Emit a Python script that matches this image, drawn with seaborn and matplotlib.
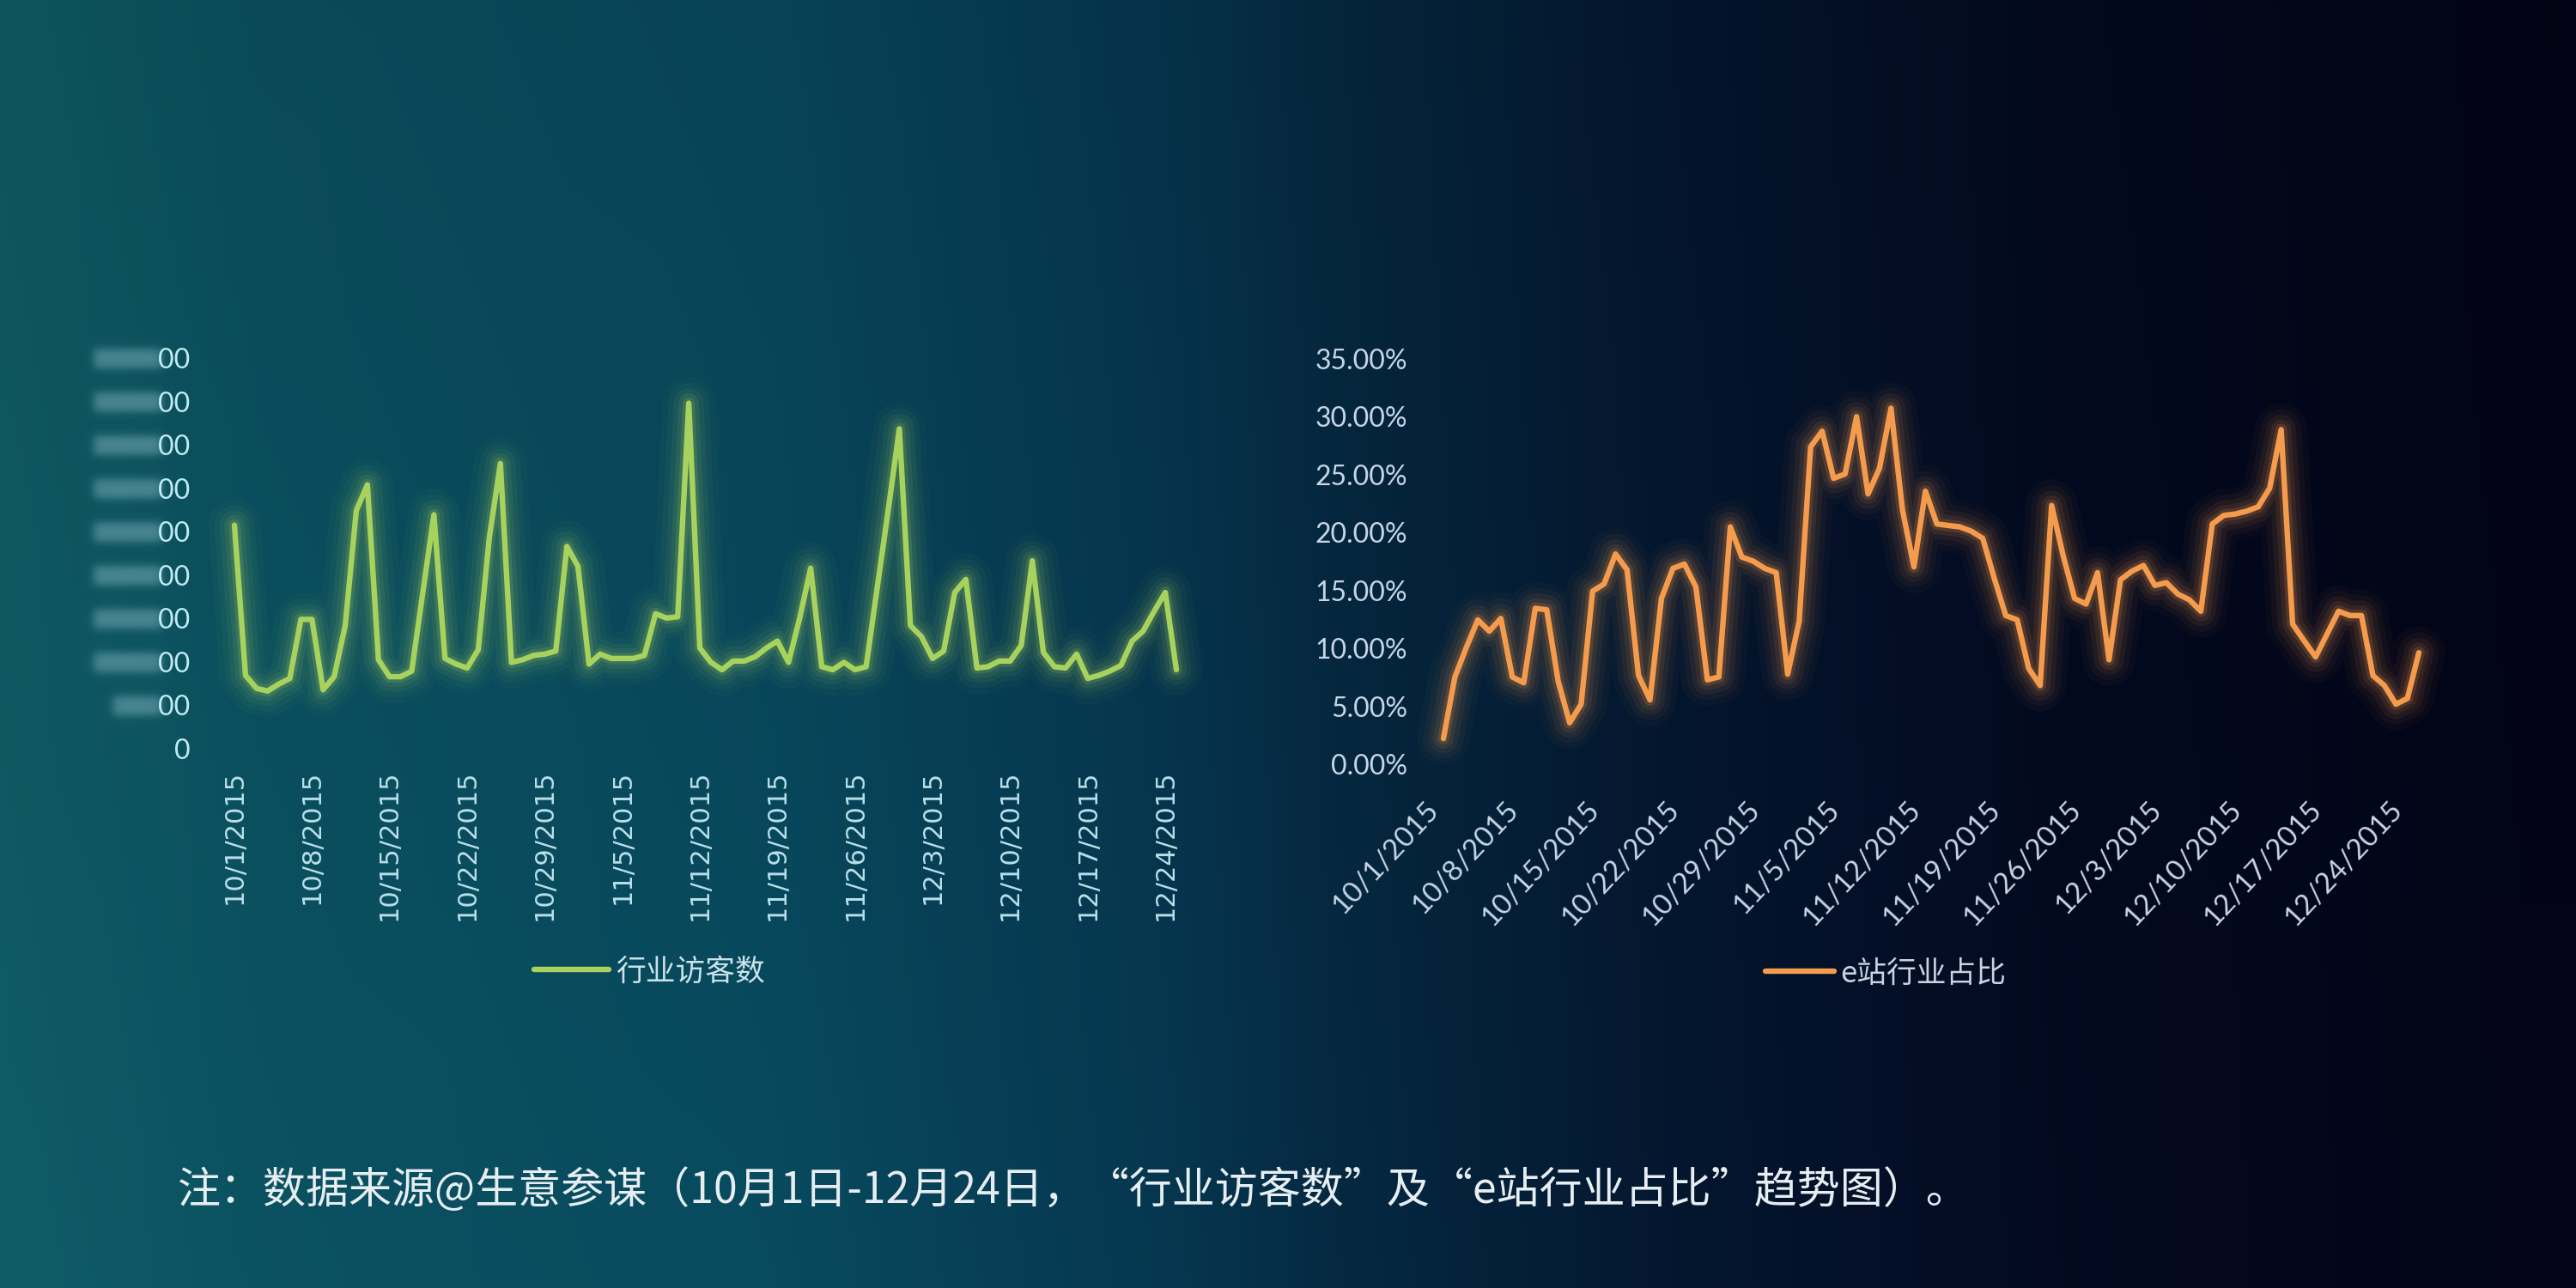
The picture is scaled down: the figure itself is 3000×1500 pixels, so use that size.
import numpy as np
import pandas as pd
import matplotlib
matplotlib.use("Agg")
import matplotlib.pyplot as plt
import seaborn as sns
from matplotlib.lines import Line2D
from matplotlib.font_manager import FontProperties

# ---------------- data ----------------
# 行业访客数 (axis units; the scale prefix is blurred in the original)
visitors = [5.15, 1.69, 1.39, 1.33, 1.49, 1.62, 2.98, 2.98, 1.36, 1.66,
            2.84, 5.49, 6.08, 2.05, 1.66, 1.66, 1.79, 3.60, 5.39, 2.08,
            1.95, 1.86, 2.28, 4.86, 6.57, 1.99, 2.05, 2.15, 2.18, 2.25,
            4.66, 4.20, 1.95, 2.18, 2.08, 2.08, 2.08, 2.15, 3.11, 3.01,
            3.04, 7.96, 2.32, 1.99, 1.82, 2.02, 2.02, 2.12, 2.32, 2.48,
            1.99, 3.00, 4.16, 1.89, 1.82, 1.99, 1.82, 1.89, 3.70, 5.50,
            7.37, 2.84, 2.58, 2.08, 2.25, 3.60, 3.90, 1.86, 1.89, 2.02,
            2.02, 2.38, 4.33, 2.22, 1.89, 1.86, 2.18, 1.62, 1.69, 1.79,
            1.92, 2.48, 2.71, 3.17, 3.60, 1.82]
# e站行业占比 (%)
share_pct = [2.24, 7.55, 10.10, 12.48, 11.50, 12.60, 7.55, 7.05, 13.47, 13.35,
             7.18, 3.60, 5.20, 14.95, 15.57, 18.16, 16.80, 7.67, 5.57, 14.33,
             16.92, 17.29, 15.32, 7.30, 7.55, 20.50, 17.90, 17.54, 16.92, 16.55,
             7.79, 12.36, 27.41, 28.76, 24.69, 25.06, 30.00, 23.34, 25.56, 30.74,
             21.98, 17.05, 23.58, 20.75, 20.62, 20.50, 20.13, 19.51, 16.06, 12.85,
             12.48, 8.29, 6.81, 22.35, 18.03, 14.33, 13.84, 16.55, 9.03, 15.94,
             16.68, 17.17, 15.45, 15.69, 14.70, 14.21, 13.22, 20.75, 21.49, 21.61,
             21.86, 22.23, 23.84, 28.89, 12.11, 10.68, 9.28, 11.25, 13.22, 12.85,
             12.85, 7.67, 6.81, 5.20, 5.70, 9.64]
tick_labels = ["10/1/2015", "10/8/2015", "10/15/2015", "10/22/2015", "10/29/2015",
               "11/5/2015", "11/12/2015", "11/19/2015", "11/26/2015", "12/3/2015",
               "12/10/2015", "12/17/2015", "12/24/2015"]
tick_days = [0, 7, 14, 21, 28, 35, 42, 49, 56, 63, 70, 77, 84]
visitor_ticks = [0, 1, 2, 3, 4, 5, 6, 7, 8, 9]
share_ticks = [0, 5, 10, 15, 20, 25, 30, 35]
legend_left = "行业访客数"
legend_right = "e站行业占比"
note = "注：数据来源@生意参谋（10月1日-12月24日，“行业访客数”及“e站行业占比”趋势图）。"

df = pd.DataFrame({"day": np.arange(len(visitors)),
                   "visitors": visitors, "share": share_pct})

GREEN = "#a8d25e"
ORANGE = "#f59b4d"

sns.set_theme(style="white")
plt.rcParams["font.family"] = ["Lato", "DejaVu Sans"]

W, H = 3000, 1500
fig = plt.figure(figsize=(30, 15), dpi=100)

# ---------------- background gradient ----------------
stops = [(0.00, (15, 90, 100)), (0.10, (11, 80, 95)), (0.30, (8, 72, 92)),
         (0.45, (6, 54, 78)), (0.52, (5, 40, 64)), (0.65, (4, 22, 46)),
         (0.80, (3, 10, 32)), (1.00, (3, 4, 22))]
xs = np.linspace(0, 1, W)
pos = [s[0] for s in stops]
cols = np.array([s[1] for s in stops], float)
row = np.stack([np.interp(xs, pos, cols[:, c]) for c in range(3)], axis=-1)
img = np.repeat(row[None, :, :], H, axis=0)
yy = np.linspace(0, 1, H)[:, None, None]
img = img * (0.93 + 0.10 * yy)  # slightly lighter toward the bottom
img = np.clip(img, 0, 255)

ax1 = fig.add_axes([273 / W, 1 - 872 / H, (1370 - 273) / W, (872 - 417) / H])
ax2 = fig.add_axes([1681 / W, 1 - 890.3 / H, (2817 - 1681) / W, (890.3 - 417.9) / H])
for ax in (ax1, ax2):
    ax.set_facecolor("none")
    for s in ax.spines.values():
        s.set_visible(False)
    ax.grid(False)

ax1.set_xlim(0, 85)
ax1.set_ylim(0, 9)
ax2.set_xlim(0, 85)
ax2.set_ylim(0, 35)

# blurred number prefixes on the left axis (as in the original)
Xg = np.arange(W)[None, :]
Yg = np.arange(H)[:, None]
blob_col = np.array([110, 168, 178], float)
for k in visitor_ticks[1:]:
    yd = ax1.transData.transform((0, k))[1]
    yc = H - yd
    x0 = 131 if k == 1 else 109
    x1 = 188
    s = 6.0
    ax_ = 0.5 * (np.tanh((Xg - x0) / s) - np.tanh((Xg - x1) / s))
    ay_ = 0.5 * (np.tanh((Yg - (yc - 11)) / s) - np.tanh((Yg - (yc + 11)) / s))
    a = (0.62 * ay_ * ax_)[:, :, None]
    img = img * (1 - a) + blob_col * a

bg = fig.add_axes([0, 0, 1, 1], zorder=-10)
bg.imshow(img.astype(np.uint8), extent=[0, W, 0, H], aspect="auto", origin="upper")
bg.axis("off")


def glow_line(ax, y, color):
    for lw, al in [(44, 0.03), (34, 0.045), (25, 0.065), (17, 0.09), (10, 0.16)]:
        sns.lineplot(data=df, x="day", y=y, ax=ax, color=color, linewidth=lw,
                     alpha=al, legend=False, clip_on=False,
                     solid_joinstyle="round", solid_capstyle="round")
    sns.lineplot(data=df, x="day", y=y, ax=ax, color=color, linewidth=4.6,
                 legend=False, clip_on=False,
                 solid_joinstyle="round", solid_capstyle="round")


glow_line(ax1, "visitors", GREEN)
glow_line(ax2, "share", ORANGE)

for ax in (ax1, ax2):
    ax.set_xlabel("")
    ax.set_ylabel("")
    ax.set_xticks(tick_days)
    ax.tick_params(length=0)

# left axis ticks
ax1.set_yticks(visitor_ticks)
ax1.set_yticklabels(["0" if v == 0 else "00" for v in visitor_ticks],
                    fontsize=23, color="#c0ebf3", family=["Lato", "DejaVu Sans"])
ax1.tick_params(axis="y", pad=37)
ax1.set_xticklabels(tick_labels, rotation=90, fontsize=22, color="#b9e0ea",
                    family=["DejaVu Sans"])
ax1.tick_params(axis="x", pad=18)

# right axis ticks
ax2.set_yticks(share_ticks)
ax2.set_yticklabels([f"{v:.2f}%" for v in share_ticks], fontsize=23,
                    color="#c6d6e6", family=["Lato", "DejaVu Sans"])
ax2.tick_params(axis="y", pad=30)
ax2.set_xticklabels(tick_labels, rotation=47, ha="right", fontsize=24,
                    color="#c6d6e6", family=["Lato", "DejaVu Sans"])
ax2.tick_params(axis="x", pad=27)

cjk = FontProperties(family=["Noto Sans CJK SC"], size=25)
fig.legend(handles=[Line2D([], [], color=GREEN, lw=4.6)], labels=[legend_left],
           loc="center left", bbox_to_anchor=(622 / W, 1 - 1132 / H),
           frameon=False, handlelength=2.5, handletextpad=0.25, borderpad=0,
           borderaxespad=0, prop=cjk, labelcolor="#c9e3ea")
fig.legend(handles=[Line2D([], [], color=ORANGE, lw=4.6)], labels=[legend_right],
           loc="center left", bbox_to_anchor=(2056 / W, 1 - 1134 / H),
           frameon=False, handlelength=2.3, handletextpad=0.2, borderpad=0,
           borderaxespad=0, prop=cjk, labelcolor="#c9d4e2")

fig.text(207 / W, 1 - 1387 / H, note, fontsize=36, color="#e6eef2",
         family=["Noto Sans CJK SC", "DejaVu Sans"], va="center", ha="left")

fig.savefig("out.png", dpi=100)
